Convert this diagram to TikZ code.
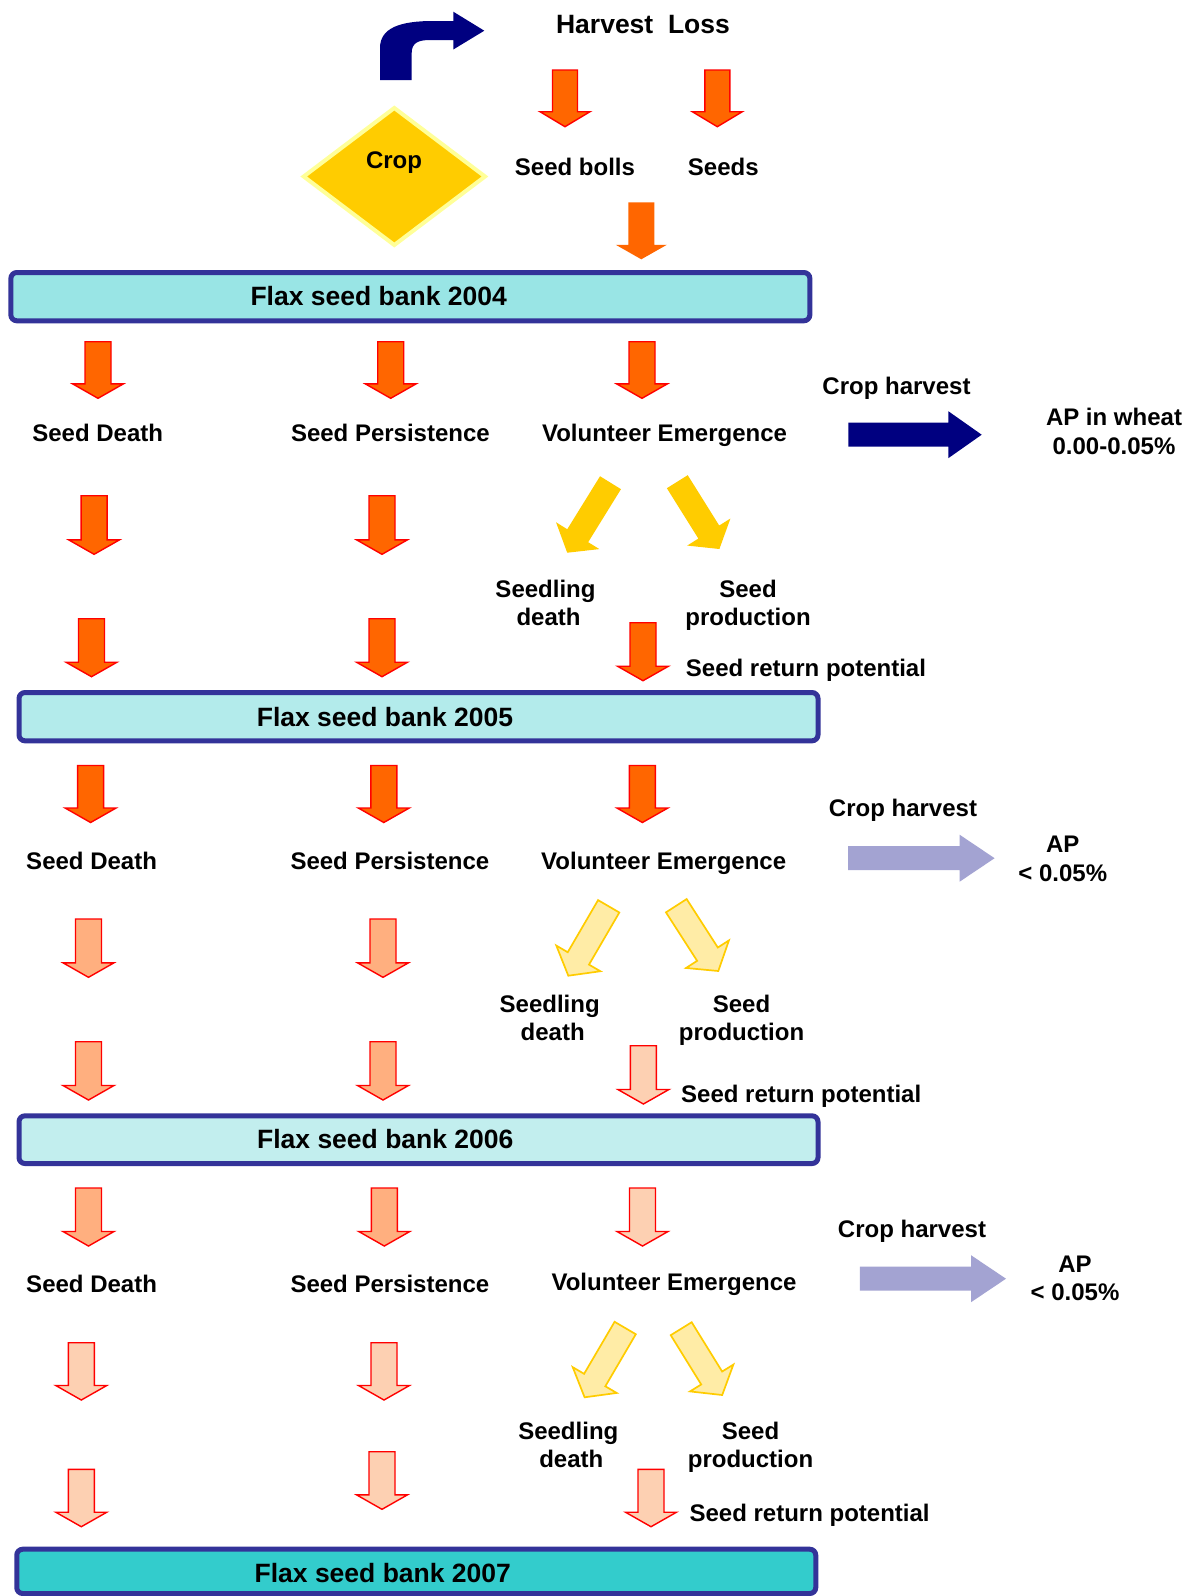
\documentclass[tikz,border=0pt]{standalone}
\usepackage{fontspec}
\setmainfont{Liberation Sans}
\usetikzlibrary{calc}
\definecolor{orng}{HTML}{FF6600}
\definecolor{lorng}{HTML}{FFAF7F}
\definecolor{peach}{HTML}{FDD0B2}
\definecolor{gold}{HTML}{FFCC00}
\definecolor{lgold}{HTML}{FFECA6}
\definecolor{paleyel}{HTML}{FFFF99}
\definecolor{navyb}{HTML}{000080}
\definecolor{lav}{HTML}{A3A3D2}
\definecolor{bordblue}{HTML}{333399}
\definecolor{bankA}{HTML}{99E5E5}
\definecolor{bankB}{HTML}{B3EBEB}
\definecolor{bankC}{HTML}{C2EEEE}
\definecolor{bankD}{HTML}{33CCCC}
% block arrow: style, tail, tip, shaft half width, head half width, head length
\newcommand\blk[6]{%
  \coordinate (bA) at #2; \coordinate (bB) at #3;
  \coordinate (bH) at ($(bB)!#6!(bA)$);
  \path[#1] ($(bA)!#4!90:(bB)$) -- ($(bH)!#4!90:(bB)$) -- ($(bH)!#5!90:(bB)$) -- (bB)
    -- ($(bH)!#5!-90:(bB)$) -- ($(bH)!#4!-90:(bB)$) -- ($(bA)!#4!-90:(bB)$) -- cycle;}
\newcommand\varr[4]{\blk{#1}{(#2,#3)}{(#2,#4)}{13pt}{25.5pt}{14.5pt}}
\newcommand\darr[5]{\blk{#1}{(#2,#3)}{(#4,#5)}{12.3pt}{25.5pt}{20pt}}
\newcommand\harr[5]{\blk{#1}{(#2,#4)}{(#3,#4)}{12pt}{23.5pt}{#5}}
\begin{document}
\begin{tikzpicture}[x=1pt,y=-1pt,line join=miter,
  lbl/.style={font=\fontsize{24}{28}\selectfont\bfseries, inner sep=0pt, anchor=base},
  big/.style={font=\fontsize{26.5}{30}\selectfont\bfseries, inner sep=0pt, anchor=base},
  bankbox/.style={draw=bordblue, line width=5pt, rounded corners=6pt, inner sep=0pt, minimum width=799pt, minimum height=48.3pt},
  arrA/.style={fill=orng, draw=red, line width=1.4pt},
  arrB/.style={fill=lorng, draw=red, line width=1.4pt},
  arrC/.style={fill=peach, draw=red, line width=1.4pt},
  diagA/.style={fill=gold},
  diagB/.style={fill=lgold, draw=gold, line width=1.7pt}]
\useasboundingbox[fill=white] (0,0) rectangle (1196,1596);

% ---------- top ----------
\fill[navyb] (380,80) -- (380,48) .. controls (380,28) and (400,21) .. (433,21) -- (453.3,21)
  -- (453.3,11.7) -- (484.3,30.7) -- (453.3,49.5) -- (453.3,40) -- (430,40)
  .. controls (418,40) and (411.7,43) .. (411.7,53) -- (411.7,80) -- cycle;
\path[fill=gold, draw=paleyel, line width=4pt] (303.7,176.5) -- (394.3,108) -- (485,176.5) -- (394.3,245) -- cycle;
\node[lbl] (crop) at (394,168.5) {Crop};
\node[big] (harvest) at (643,33.5) {Harvest~~Loss};
\blk{arrA}{(565,70)}{(565,126.7)}{12.5pt}{25pt}{15pt}
\blk{arrA}{(717.3,70)}{(717.3,126.7)}{12.5pt}{25pt}{15pt}
\node[lbl] (bolls) at (575,175) {Seed bolls};
\node[lbl] (seeds) at (723.3,175) {Seeds};
\varr{fill=orng}{641.3}{202.3}{259.3}

% ---------- bank 2004 ----------
\node[bankbox, fill=bankA] (bank04) at (410.35,296.65) {};
\node[big] (t04) at (378.7,305) {Flax seed bank 2004};
\varr{arrA}{98}{341.7}{398.3}
\varr{arrA}{390.7}{341.7}{398.3}
\varr{arrA}{642}{341.7}{398.3}
\node[lbl] (sd04) at (97.7,441.5) {Seed Death};
\node[lbl] (sp04) at (390.4,441.5) {Seed Persistence};
\node[lbl] (ve04) at (664.5,441.5) {Volunteer Emergence};
\node[lbl] (ch04) at (896.5,394.3) {Crop harvest};
\harr{fill=navyb}{848.3}{981.7}{434.7}{33.4pt}
\node[lbl] (ap04a) at (1114,425) {AP in wheat};
\node[lbl] (ap04b) at (1114,454) {0.00-0.05\%};
\varr{arrA}{94.1}{495.7}{554.3}
\varr{arrA}{382}{495.7}{554.3}
\darr{diagA}{610.5}{482.7}{567.2}{552.7}
\darr{diagA}{677.3}{481.7}{719.4}{549}
\node[lbl] (sl04a) at (545.5,597.7) {Seedling};
\node[lbl] (sl04b) at (548.5,625.7) {death};
\node[lbl] (pr04a) at (748,597.7) {Seed};
\node[lbl] (pr04b) at (748,625.7) {production};
\varr{arrA}{91.5}{618.7}{676.7}
\varr{arrA}{382}{618.7}{676.7}
\varr{arrA}{643}{622.7}{680.7}
\node[lbl] (sr04) at (806,676.7) {Seed return potential};

% ---------- bank 2005 ----------
\node[bankbox, fill=bankB] (bank05) at (418.5,716.65) {};
\node[big] (t05) at (385,726) {Flax seed bank 2005};
\varr{arrA}{90.6}{765.5}{822.5}
\varr{arrA}{383.8}{765.5}{822.5}
\varr{arrA}{642.4}{765.5}{822.5}
\node[lbl] (sd05) at (91.6,869.8) {Seed Death};
\node[lbl] (sp05) at (389.9,869.8) {Seed Persistence};
\node[lbl] (ve05) at (663.7,869.8) {Volunteer Emergence};
\node[lbl] (ch05) at (903,816.9) {Crop harvest};
\harr{fill=lav}{848}{994.6}{858.2}{35pt}
\node[lbl] (ap05a) at (1062.8,852.5) {AP};
\node[lbl] (ap05b) at (1062.8,881) {< 0.05\%};
\varr{arrB}{88.5}{919}{977.3}
\varr{arrB}{383}{919}{977.3}
\darr{diagB}{608.7}{906.3}{568.3}{975.7}
\darr{diagB}{676.3}{905.7}{718.3}{971}
\node[lbl] (sl05a) at (549.7,1012) {Seedling};
\node[lbl] (sl05b) at (552.7,1040) {death};
\node[lbl] (pr05a) at (741.5,1012) {Seed};
\node[lbl] (pr05b) at (741.5,1040) {production};
\varr{arrB}{88.5}{1041.7}{1100}
\varr{arrB}{383}{1041.7}{1100}
\varr{arrC}{643.4}{1045.7}{1104}
\node[lbl] (sr05) at (801.2,1102) {Seed return potential};

% ---------- bank 2006 ----------
\node[bankbox, fill=bankC, minimum height=47.7pt] (bank06) at (418.5,1139.65) {};
\node[big] (t06) at (385.3,1148.3) {Flax seed bank 2006};
\varr{arrB}{88.5}{1188}{1246}
\varr{arrB}{384.3}{1188}{1246}
\varr{arrC}{642.5}{1188}{1246}
\node[lbl] (sd06) at (91.6,1292.3) {Seed Death};
\node[lbl] (sp06) at (389.9,1292.3) {Seed Persistence};
\node[lbl] (ve06) at (674,1290.3) {Volunteer Emergence};
\node[lbl] (ch06) at (912,1237.7) {Crop harvest};
\harr{fill=lav}{859.8}{1006}{1278.7}{35pt}
\node[lbl] (ap06a) at (1075,1272.7) {AP};
\node[lbl] (ap06b) at (1075,1300.7) {< 0.05\%};
\varr{arrC}{81.3}{1342.7}{1400}
\varr{arrC}{384}{1342.7}{1400}
\darr{diagB}{625.2}{1328}{584.6}{1397.3}
\darr{diagB}{681.2}{1328.7}{722.2}{1395}
\node[lbl] (sl06a) at (568.3,1439.3) {Seedling};
\node[lbl] (sl06b) at (571.3,1467.3) {death};
\node[lbl] (pr06a) at (750.5,1439.3) {Seed};
\node[lbl] (pr06b) at (750.5,1467.3) {production};
\varr{arrC}{81.3}{1469.3}{1526.7}
\varr{arrC}{382}{1451.7}{1509.3}
\varr{arrC}{651}{1469.3}{1526.7}
\node[lbl] (sr06) at (809.6,1521.7) {Seed return potential};

% ---------- bank 2007 ----------
\node[bankbox, fill=bankD, minimum height=44.3pt] (bank07) at (416.25,1571.35) {};
\node[big] (t07) at (382.8,1582.5) {Flax seed bank 2007};
\end{tikzpicture}
\end{document}
